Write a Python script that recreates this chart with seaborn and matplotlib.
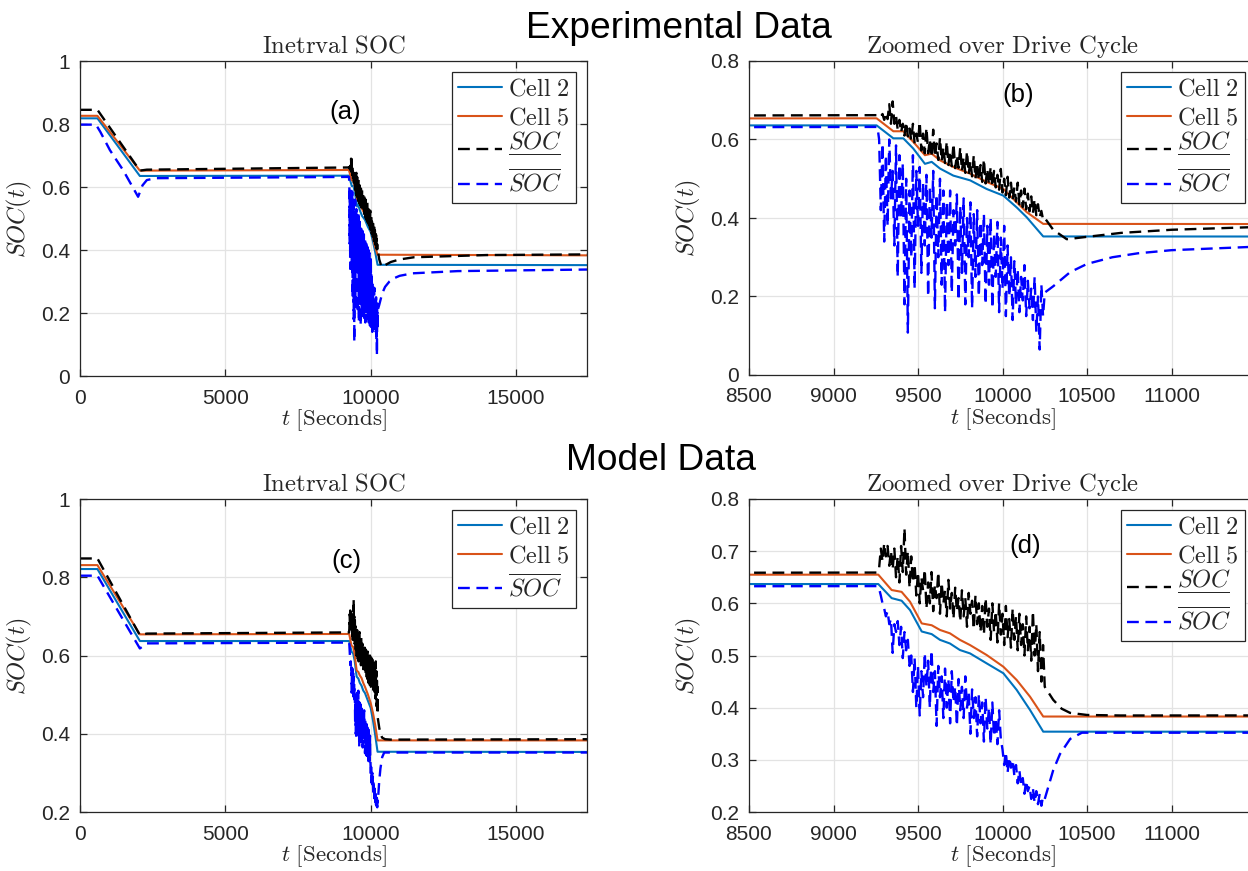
import numpy as np
import matplotlib
matplotlib.use('Agg')
import matplotlib.pyplot as plt
import seaborn as sns
from matplotlib.lines import Line2D

# ---------------- data (time in seconds, SOC values) ----------------
# sampling grid of the drive cycle (10 s)
t_drive = list(range(9260, 10251, 10))

# ---- Experimental ----
exp_cell2_t = [0, 600, 2060, 9255, 9354, 9413, 9472, 9541, 9581, 9630, 9709, 9808, 9906, 10005, 10084, 10143, 10241, 17450]
exp_cell2_v = [0.818, 0.818, 0.635, 0.636, 0.603, 0.603, 0.577, 0.538, 0.543, 0.526, 0.508, 0.496, 0.474, 0.457, 0.427, 0.402, 0.353, 0.352]
exp_cell5_t = [0, 600, 2060, 9255, 9354, 9413, 9472, 9541, 9581, 9630, 9709, 9808, 9906, 10005, 10084, 10143, 10241, 17450]
exp_cell5_v = [0.826, 0.826, 0.652, 0.654, 0.621, 0.621, 0.594, 0.560, 0.564, 0.547, 0.530, 0.513, 0.492, 0.474, 0.440, 0.415, 0.385, 0.383]

exp_black_pre_t = [0, 600, 2060, 2300, 9250]
exp_black_pre_v = [0.845, 0.845, 0.652, 0.655, 0.662]
exp_black_drive = [
    0.662, 0.663, 0.658, 0.665, 0.650, 0.668, 0.652, 0.690, 0.640, 0.697,
    0.640, 0.660, 0.625, 0.650, 0.618, 0.640, 0.610, 0.645, 0.608, 0.628,
    0.598, 0.640, 0.590, 0.615, 0.592, 0.645, 0.572, 0.615, 0.565, 0.630,
    0.565, 0.600, 0.555, 0.625, 0.556, 0.590, 0.548, 0.605, 0.545, 0.580,
    0.540, 0.595, 0.535, 0.570, 0.532, 0.590, 0.527, 0.560, 0.528, 0.580,
    0.520, 0.555, 0.515, 0.570, 0.512, 0.545, 0.506, 0.560, 0.500, 0.540,
    0.496, 0.535, 0.492, 0.550, 0.488, 0.525, 0.485, 0.530, 0.480, 0.520,
    0.478, 0.510, 0.472, 0.525, 0.465, 0.500, 0.458, 0.505, 0.452, 0.490,
    0.447, 0.478, 0.442, 0.490, 0.435, 0.470, 0.428, 0.475, 0.422, 0.462,
    0.417, 0.455, 0.412, 0.448, 0.407, 0.435, 0.402, 0.418, 0.396, 0.400]
exp_black_post_t = [10300, 10380, 10500, 10700, 11000, 11500, 14000, 17450]
exp_black_post_v = [0.370, 0.346, 0.352, 0.362, 0.370, 0.377, 0.384, 0.386]

exp_blue_pre_t = [0, 550, 700, 1030, 1480, 2000, 2150, 2300, 2600, 9250]
exp_blue_pre_v = [0.798, 0.798, 0.775, 0.717, 0.654, 0.569, 0.605, 0.622, 0.628, 0.632]
exp_blue_drive = [
    0.632, 0.600, 0.420, 0.590, 0.340, 0.560, 0.380, 0.600, 0.450, 0.520,
    0.330, 0.585, 0.250, 0.560, 0.400, 0.540, 0.180, 0.500, 0.108, 0.470,
    0.300, 0.560, 0.220, 0.520, 0.380, 0.530, 0.260, 0.490, 0.330, 0.510,
    0.200, 0.480, 0.350, 0.520, 0.170, 0.460, 0.300, 0.500, 0.230, 0.470,
    0.160, 0.440, 0.280, 0.470, 0.210, 0.420, 0.330, 0.460, 0.190, 0.430,
    0.260, 0.450, 0.180, 0.400, 0.300, 0.440, 0.170, 0.410, 0.250, 0.420,
    0.200, 0.390, 0.280, 0.410, 0.180, 0.380, 0.230, 0.400, 0.170, 0.360,
    0.250, 0.390, 0.160, 0.350, 0.220, 0.380, 0.150, 0.330, 0.200, 0.300,
    0.140, 0.290, 0.180, 0.270, 0.160, 0.250, 0.190, 0.280, 0.150, 0.240,
    0.170, 0.220, 0.140, 0.250, 0.110, 0.200, 0.065, 0.230, 0.150, 0.210]
exp_blue_post_t = [10300, 10400, 10500, 10650, 10800, 11000, 11450, 13000, 17450]
exp_blue_post_v = [0.226, 0.262, 0.283, 0.300, 0.310, 0.318, 0.326, 0.333, 0.338]

# ---- Model ----
mod_cell2_t = [0, 600, 2060, 9265, 9344, 9403, 9453, 9522, 9581, 9630, 9689, 9748, 9808, 9906, 10005, 10084, 10163, 10241, 17450]
mod_cell2_v = [0.821, 0.821, 0.637, 0.637, 0.610, 0.605, 0.587, 0.546, 0.541, 0.530, 0.523, 0.5105, 0.504, 0.485, 0.466, 0.434, 0.3955, 0.354, 0.3535]
mod_cell5_t = [0, 600, 2060, 9265, 9344, 9403, 9453, 9522, 9581, 9630, 9689, 9748, 9808, 9906, 10005, 10084, 10163, 10241, 17450]
mod_cell5_v = [0.831, 0.831, 0.654, 0.655, 0.6255, 0.622, 0.603, 0.5615, 0.558, 0.549, 0.5425, 0.530, 0.520, 0.501, 0.4785, 0.453, 0.421, 0.383, 0.383]

mod_black_pre_t = [0, 600, 2060, 2300, 9250]
mod_black_pre_v = [0.848, 0.848, 0.652, 0.656, 0.659]
mod_black_drive = [
    0.659, 0.668, 0.705, 0.680, 0.715, 0.690, 0.710, 0.672, 0.700, 0.665,
    0.705, 0.650, 0.690, 0.640, 0.710, 0.660, 0.744, 0.655, 0.700, 0.630,
    0.690, 0.640, 0.675, 0.615, 0.660, 0.600, 0.650, 0.625, 0.665, 0.590,
    0.640, 0.600, 0.660, 0.585, 0.635, 0.610, 0.660, 0.580, 0.640, 0.600,
    0.625, 0.575, 0.645, 0.590, 0.620, 0.570, 0.630, 0.585, 0.610, 0.565,
    0.625, 0.575, 0.610, 0.555, 0.620, 0.580, 0.605, 0.550, 0.615, 0.560,
    0.600, 0.545, 0.595, 0.540, 0.610, 0.555, 0.590, 0.530, 0.600, 0.545,
    0.585, 0.525, 0.600, 0.540, 0.580, 0.520, 0.595, 0.535, 0.570, 0.515,
    0.590, 0.530, 0.575, 0.510, 0.580, 0.520, 0.560, 0.500, 0.575, 0.510,
    0.555, 0.490, 0.585, 0.500, 0.560, 0.470, 0.545, 0.450, 0.520, 0.440]
mod_black_post_t = [10300, 10350, 10400, 10500, 10700, 17450]
mod_black_post_v = [0.415, 0.398, 0.390, 0.386, 0.385, 0.386]

mod_blue_pre_t = [0, 600, 2060, 2300, 9250]
mod_blue_pre_v = [0.804, 0.804, 0.618, 0.631, 0.633]
mod_blue_drive = [
    0.633, 0.628, 0.615, 0.600, 0.590, 0.575, 0.585, 0.560, 0.570, 0.505,
    0.560, 0.545, 0.566, 0.520, 0.555, 0.495, 0.545, 0.510, 0.530, 0.480,
    0.500, 0.430, 0.495, 0.400, 0.480, 0.385, 0.470, 0.420, 0.505, 0.440,
    0.490, 0.400, 0.510, 0.430, 0.470, 0.365, 0.480, 0.420, 0.460, 0.380,
    0.475, 0.400, 0.455, 0.370, 0.470, 0.410, 0.440, 0.365, 0.455, 0.395,
    0.440, 0.380, 0.460, 0.400, 0.430, 0.350, 0.435, 0.380, 0.420, 0.345,
    0.425, 0.370, 0.410, 0.335, 0.420, 0.360, 0.400, 0.330, 0.410, 0.345,
    0.380, 0.330, 0.395, 0.340, 0.320, 0.290, 0.315, 0.275, 0.305, 0.285,
    0.300, 0.270, 0.290, 0.255, 0.280, 0.250, 0.265, 0.235, 0.260, 0.240,
    0.250, 0.225, 0.245, 0.218, 0.240, 0.215, 0.235, 0.212, 0.230, 0.225]
mod_blue_post_t = [10300, 10340, 10400, 10470, 17450]
mod_blue_post_v = [0.280, 0.311, 0.340, 0.352, 0.352]

# tick labels
full_xticks = [0, 5000, 10000, 15000]
zoom_xticks = [8500, 9000, 9500, 10000, 10500, 11000]
exp_yticks = [0, 0.2, 0.4, 0.6, 0.8, 1.0]
exp_zoom_yticks = [0, 0.2, 0.4, 0.6, 0.8]
mod_yticks = [0.2, 0.4, 0.6, 0.8, 1.0]
mod_zoom_yticks = [0.2, 0.3, 0.4, 0.5, 0.6, 0.7, 0.8]

# ---------------- style ----------------
sns.set_theme(style='whitegrid')
plt.rcParams['font.family'] = ['Liberation Sans', 'DejaVu Sans']
plt.rcParams['mathtext.fontset'] = 'cm'

C2 = '#0072BD'
C5 = '#D95319'
CK = '#000000'
CB = '#0000FF'
DASH = (0, (5.0, 2.8))

fig = plt.figure(figsize=(12.48, 8.71), dpi=100)
W, H = 1248.0, 871.0


def box(l, t, r, b):
    return [l / W, 1 - b / H, (r - l) / W, (b - t) / H]


ax_a = fig.add_axes(box(80, 61, 587, 376))
ax_b = fig.add_axes(box(749, 61, 1256, 375))
ax_c = fig.add_axes(box(80, 499, 587, 812))
ax_d = fig.add_axes(box(749, 499, 1256, 812))


def fmt(v):
    return ('%g' % v)


def draw(ax, t, v, color, dashed):
    sns.lineplot(x=np.asarray(t, float), y=np.asarray(v, float), ax=ax, color=color,
                 lw=1.7 if dashed else 1.5, sort=False, estimator=None,
                 linestyle=DASH if dashed else '-')


def style(ax, xlim, xticks, ylim, yticks):
    ax.set_facecolor('white')
    ax.set_xlim(*xlim)
    ax.set_ylim(*ylim)
    ax.set_xticks(xticks)
    ax.set_xticklabels([fmt(x) for x in xticks])
    ax.set_yticks(yticks)
    ax.set_yticklabels([fmt(y) for y in yticks])
    ax.grid(True, color='#e3e3e3', lw=0.9)
    for s in ax.spines.values():
        s.set_visible(True)
        s.set_color('#262626')
        s.set_linewidth(0.9)
    ax.tick_params(direction='in', length=5, width=0.9, top=True, right=True,
                   bottom=True, left=True, labelsize=15, colors='#262626')
    ax.tick_params(axis='x', pad=9)
    ax.tick_params(axis='y', pad=7)
    ax.set_xlabel(r'$t\ \mathrm{[Seconds]}$', fontsize=16.5, color='#262626', labelpad=0)
    ax.set_ylabel(r'$SOC(t)$', fontsize=17.5, color='#262626', labelpad=5)


def series(pre_t, pre_v, drive_v, post_t, post_v):
    return pre_t + t_drive + post_t, pre_v + drive_v + post_v


exp_black = series(exp_black_pre_t, exp_black_pre_v, exp_black_drive, exp_black_post_t, exp_black_post_v)
exp_blue = series(exp_blue_pre_t, exp_blue_pre_v, exp_blue_drive, exp_blue_post_t, exp_blue_post_v)
mod_black = series(mod_black_pre_t, mod_black_pre_v, mod_black_drive, mod_black_post_t, mod_black_post_v)
mod_blue = series(mod_blue_pre_t, mod_blue_pre_v, mod_blue_drive, mod_blue_post_t, mod_blue_post_v)

for ax in (ax_a, ax_b):
    draw(ax, exp_cell2_t, exp_cell2_v, C2, False)
    draw(ax, exp_cell5_t, exp_cell5_v, C5, False)
    draw(ax, exp_black[0], exp_black[1], CK, True)
    draw(ax, exp_blue[0], exp_blue[1], CB, True)
for ax in (ax_c, ax_d):
    draw(ax, mod_cell2_t, mod_cell2_v, C2, False)
    draw(ax, mod_cell5_t, mod_cell5_v, C5, False)
    draw(ax, mod_black[0], mod_black[1], CK, True)
    draw(ax, mod_blue[0], mod_blue[1], CB, True)

style(ax_a, (0, 17450), full_xticks, (0, 1), exp_yticks)
style(ax_b, (8500, 11500), zoom_xticks, (0, 0.8), exp_zoom_yticks)
style(ax_c, (0, 17450), full_xticks, (0.2, 1), mod_yticks)
style(ax_d, (8500, 11500), zoom_xticks, (0.2, 0.8), mod_zoom_yticks)

title_kw = dict(fontsize=17.8, color='#262626', pad=6)
ax_a.set_title(r'$\mathrm{Inetrval\ SOC}$', **title_kw)
ax_c.set_title(r'$\mathrm{Inetrval\ SOC}$', **title_kw)
ax_b.set_title(r'$\mathrm{Zoomed\ over\ Drive\ Cycle}$', **title_kw)
ax_d.set_title(r'$\mathrm{Zoomed\ over\ Drive\ Cycle}$', **title_kw)

h2 = Line2D([], [], color=C2, lw=1.5)
h5 = Line2D([], [], color=C5, lw=1.5)
hk = Line2D([], [], color=CK, lw=1.7, linestyle=DASH)
hb = Line2D([], [], color=CB, lw=1.7, linestyle=DASH)
lab2 = r'$\mathrm{Cell\ 2}$'
lab5 = r'$\mathrm{Cell\ 5}$'
labk = r'$\dfrac{SOC}{\ }$'
labb = r'$\overline{SOC}$'

leg_kw = dict(loc='upper right', fontsize=17.5, frameon=True, fancybox=False, framealpha=1,
              edgecolor='#262626', handlelength=1.8, handletextpad=0.25, labelspacing=0.3,
              borderpad=0.25, borderaxespad=0.45)
for ax in (ax_a, ax_b, ax_d):
    lg = ax.legend([h2, h5, hk, hb], [lab2, lab5, labk, labb], **leg_kw)
    lg.get_frame().set_linewidth(0.9)
lg = ax_c.legend([h2, h5, hb], [lab2, lab5, labb], **leg_kw)
lg.get_frame().set_linewidth(0.9)

panel_kw = dict(fontsize=18.5, color='black', ha='center', va='center')
ax_a.text(0.524, 0.838, '(a)', transform=ax_a.transAxes, **panel_kw)
ax_b.text(0.53, 0.891, '(b)', transform=ax_b.transAxes, **panel_kw)
ax_c.text(0.526, 0.802, '(c)', transform=ax_c.transAxes, **panel_kw)
ax_d.text(0.544, 0.85, '(d)', transform=ax_d.transAxes, **panel_kw)

fig.text(679 / W, 1 - 28 / H, 'Experimental Data', fontsize=26.7, ha='center', va='center', color='black')
fig.text(661 / W, 1 - 460 / H, 'Model Data', fontsize=26.7, ha='center', va='center', color='black')

fig.savefig('out.png', dpi=100, facecolor='white')
